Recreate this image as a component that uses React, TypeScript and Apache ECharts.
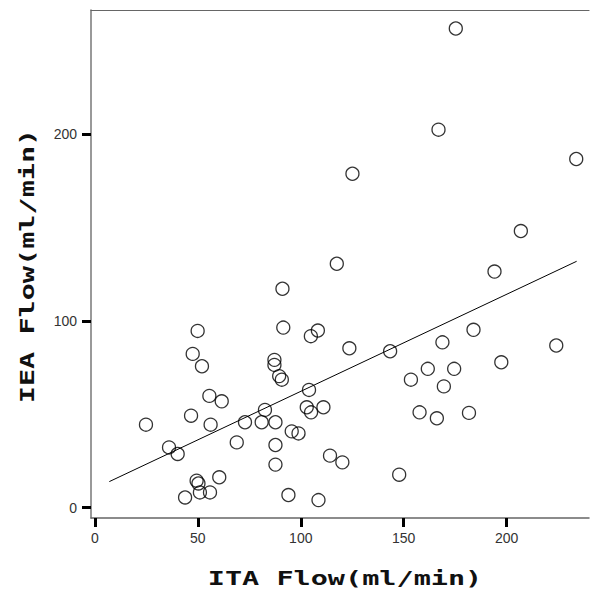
import React, { useEffect, useRef } from "react";
import * as echarts from "echarts";

// ITA flow (x) vs IEA flow (y), ml/min
const itaFlow = [
  175.3, 166.9, 233.8, 125.1, 206.9, 117.5, 91.1, 49.9, 91.5, 104.9,
  108.3, 47.5, 52.0, 87.2, 87.2, 89.5, 90.8, 104.0, 55.6, 61.6,
  102.9, 105.0, 111.0, 46.7, 24.8, 56.2, 72.9, 82.6, 81.0, 87.7,
  95.6, 98.9, 68.9, 87.7, 36.0, 40.2, 114.2, 120.2, 87.7, 60.4,
  49.4, 50.3, 51.0, 55.9, 43.8, 94.0, 108.6, 194.1, 183.9, 123.6,
  143.4, 168.8, 224.1, 161.7, 174.5, 197.4, 153.5, 169.5, 157.7, 166.1,
  181.7, 147.8,
];
const ieaFlow = [
  256.7, 202.5, 186.8, 178.9, 148.2, 130.7, 117.3, 94.7, 96.5, 91.9,
  94.9, 82.4, 75.8, 79.2, 76.5, 70.5, 68.6, 63.1, 59.9, 57.0,
  53.8, 51.1, 53.8, 49.3, 44.5, 44.5, 45.8, 52.4, 45.8, 45.8,
  40.9, 39.8, 35.0, 33.6, 32.3, 28.8, 27.9, 24.3, 23.1, 16.3,
  14.5, 13.0, 8.2, 8.2, 5.5, 6.8, 4.1, 126.5, 95.3, 85.4,
  83.8, 88.6, 86.9, 74.4, 74.4, 77.9, 68.6, 65.0, 51.1, 47.9,
  50.8, 17.7,
];
// Linear fit line end points (x, y)
const fitX = [7, 234];
const fitY = [14, 132];

const xTicks = [0, 50, 100, 150, 200];
const yTicks = [0, 100, 200];

const xTitle = "ITA Flow(ml/min)";
const yTitle = "IEA Flow(ml/min)";

export default function App() {
  const ref = useRef<HTMLDivElement>(null);
  useEffect(() => {
    if (!ref.current) return;
    document.body.style.margin = "0";
    document.body.style.overflow = "hidden";
    const chart = echarts.init(ref.current, null, { renderer: "svg" });
    const points = itaFlow.map((x, i) => [x, ieaFlow[i]]);
    const fit = fitX.map((x, i) => [x, fitY[i]]);
    const labelStyle = {
      color: "#333",
      fontSize: 14,
      fontFamily: "Liberation Sans, Arial, sans-serif",
    };
    const titleFont = {
      fontFamily: "DejaVu Sans Mono, monospace",
      fontWeight: "bold" as const,
      fontSize: 19,
      fill: "#111",
      align: "center" as const,
      verticalAlign: "middle" as const,
      textAlign: "center" as const,
      textVerticalAlign: "middle" as const,
    };
    chart.setOption({
      animation: false,
      backgroundColor: "#fff",
      grid: { left: 91, right: 2, top: 10, bottom: 76, containLabel: false },
      xAxis: [
        {
          type: "value",
          min: -1.9,
          max: 240,
          position: "bottom",
          splitLine: { show: false },
          axisLine: { show: true, onZero: false, lineStyle: { color: "#666", width: 1.5 } },
          axisTick: {
            show: true,
            inside: false,
            length: 9,
            lineStyle: { color: "#000", width: 3 },
            customValues: xTicks,
          },
          axisLabel: { ...labelStyle, margin: 13, customValues: xTicks },
        },
        {
          type: "value",
          min: -1.9,
          max: 240,
          position: "top",
          splitLine: { show: false },
          axisLine: { show: true, onZero: false, lineStyle: { color: "#666", width: 1.2 } },
          axisTick: { show: false },
          axisLabel: { show: false },
        },
      ],
      yAxis: {
        type: "value",
        position: "left",
        min: -5.5,
        max: 266.6,
        splitLine: { show: false },
        axisLine: { show: true, onZero: false, lineStyle: { color: "#777", width: 1.5 } },
        axisTick: {
          show: true,
          inside: false,
          length: 9,
          lineStyle: { color: "#000", width: 3 },
          customValues: yTicks,
        },
        axisLabel: { ...labelStyle, margin: 14, customValues: yTicks },
      },
      series: [
        {
          type: "line",
          data: fit,
          xAxisIndex: 0,
          symbol: "none",
          silent: true,
          lineStyle: { color: "#000", width: 1 },
          z: 1,
        },
        {
          type: "scatter",
          data: points,
          xAxisIndex: 0,
          symbol: "circle",
          symbolSize: 13,
          itemStyle: {
            color: "rgba(0,0,0,0)",
            borderColor: "#000",
            borderWidth: 1.3,
          },
          z: 2,
        },
      ],
      graphic: [
        {
          type: "text",
          x: 345,
          y: 579,
          scaleX: 1.5,
          style: { text: xTitle, ...titleFont },
        },
        {
          type: "text",
          x: 28,
          y: 266,
          rotation: Math.PI / 2,
          scaleX: 1.5,
          style: { text: yTitle, ...titleFont },
        },
      ],
    });
    return () => chart.dispose();
  }, []);
  return (
    <div
      ref={ref}
      style={{ position: "absolute", left: 0, top: 0, width: 591, height: 594 }}
    />
  );
}
